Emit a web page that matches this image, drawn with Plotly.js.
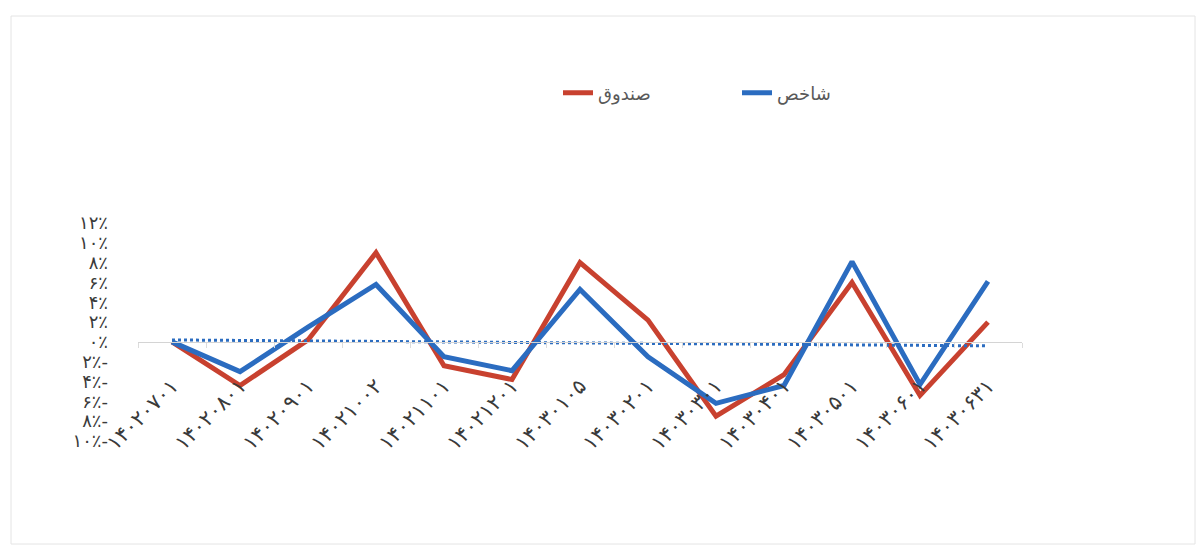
<!DOCTYPE html>
<html>
<head>
<meta charset="utf-8">
<script src="https://cdn.plot.ly/plotly-3.0.1.min.js"></script>
<style>html,body{margin:0;padding:0;background:#fff;}#chart{width:1204px;height:549px;}</style>
</head>
<body>
<div id="chart"></div>
<script>
// categories (Persian dates)
const categories = ["۱۴۰۲۰۷۰۱","۱۴۰۲۰۸۰۱","۱۴۰۲۰۹۰۱","۱۴۰۲۱۰۰۲","۱۴۰۲۱۱۰۱","۱۴۰۲۱۲۰۱","۱۴۰۳۰۱۰۵","۱۴۰۳۰۲۰۱","۱۴۰۳۰۳۰۱","۱۴۰۳۰۴۰۱","۱۴۰۳۰۵۰۱","۱۴۰۳۰۶۰۱","۱۴۰۳۰۶۳۱"];
// series values (%)
const fundValues  = [0.0, -4.4, 0.2, 9.0, -2.4, -3.8, 8.0, 2.2, -7.5, -3.3, 6.0, -5.4, 2.0];
const indexValues = [0.0, -3.0, 1.5, 5.8, -1.5, -2.9, 5.3, -1.5, -6.2, -4.4, 8.1, -4.3, 6.1];
// dotted linear trend of the index (start / end values)
const trendCats   = [categories[0], categories[categories.length-1]];
const trendValues = [0.2, -0.4];
// y tick values and labels
const yTickVals  = [12, 10, 8, 6, 4, 2, 0, -2, -4, -6, -8, -10];
const yTickText  = ["۱۲٪","۱۰٪","۸٪","۶٪","۴٪","۲٪","۰٪","۲٪-","۴٪-","۶٪-","۸٪-","۱۰٪-"];
const seriesNames = ["صندوق","شاخص"];

const FONT = "DejaVu Sans, Noto Sans, sans-serif";

const traces = [
  {x: categories, y: fundValues, name: seriesNames[0], type: 'scatter', mode: 'lines',
   line: {color: '#c8412f', width: 5}},
  {x: categories, y: indexValues, name: seriesNames[1], type: 'scatter', mode: 'lines',
   line: {color: '#2b6cc0', width: 5}},
  {x: trendCats, y: trendValues, type: 'scatter', mode: 'lines', showlegend: false,
   line: {color: '#2b6cc0', width: 3, dash: 'dot'}}
];

const layout = {
  width: 1204, height: 549,
  margin: {l: 138, r: 182, t: 223, b: 108},
  paper_bgcolor: '#ffffff', plot_bgcolor: 'rgba(0,0,0,0)',
  font: {family: FONT, color: '#404040'},
  showlegend: true,
  legend: {orientation: 'h', x: (558-138)/884, xanchor: 'left', y: 1.596, yanchor: 'middle',
           entrywidth: 134, entrywidthmode: 'pixels',
           font: {family: FONT, size: 18, color: '#595959'}, bgcolor: 'rgba(0,0,0,0)'},
  xaxis: {type: 'category', range: [-0.5, 12.5], anchor: 'free', position: 10/22,
          showline: true, linecolor: '#d4d4d4', linewidth: 1.5,
          ticks: 'outside', tickson: 'boundaries', ticklen: 5, tickcolor: '#dcdcdc',
          showgrid: false, zeroline: false, tickangle: -45, ticklabelstandoff: 22,
          tickfont: {family: FONT, size: 21, color: '#3a3a3a'}},
  yaxis: {range: [-10, 12], tickvals: yTickVals, ticktext: yTickText,
          showgrid: false, zeroline: false, showline: false, ticks: '',
          tickfont: {family: FONT, size: 18, color: '#3a3a3a'}, ticklabelstandoff: 29},
  shapes: [
    {type: 'rect', xref: 'paper', yref: 'paper',
     x0: (11-138)/884, x1: (1195-138)/884, y0: (441-544)/218, y1: (441-16)/218,
     line: {color: '#e4e4e4', width: 1}, fillcolor: 'rgba(0,0,0,0)'}
  ]
};

Plotly.newPlot('chart', traces, layout, {displayModeBar: false, staticPlot: true});
</script>
</body>
</html>
